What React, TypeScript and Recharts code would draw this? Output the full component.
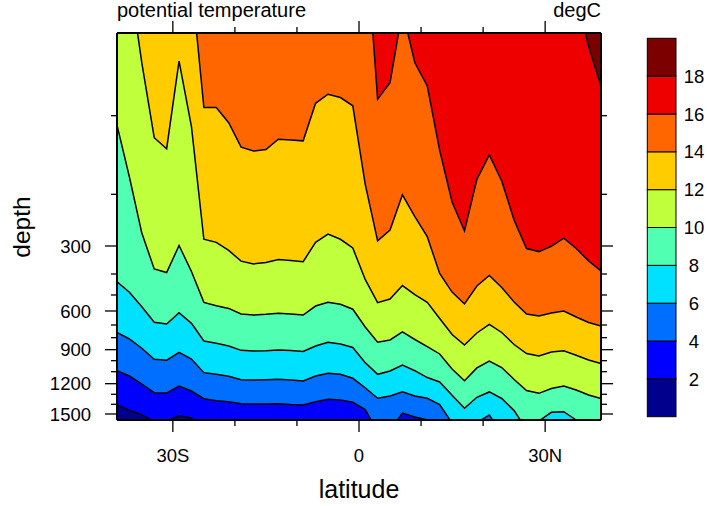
import { Area, CartesianGrid, ComposedChart, XAxis, YAxis } from "recharts";

const FONT = '"Liberation Sans", Arial, Helvetica, sans-serif';

// grid columns, degrees latitude (negative = south)
const LATS = [
  -39, -37, -35, -33, -31, -29, -27, -25, -23, -21, -19, -17, -15, -13, -11, -9,
  -7, -5, -3, -1, 1, 3, 5, 7, 9, 11, 13, 15, 17, 19, 21, 23, 25, 27, 29, 31, 33,
  35, 37, 39,
];

// depth (m) of each isotherm in every column.
// negative = isotherm lies above the surface there, >1562 = below the section bottom
const ISO_2 = [
  1407, 1464, 1510, 1578, 1572, 1518, 1541, 1644, 1800, 1800, 1800, 1800, 1800,
  1800, 1800, 1800, 1800, 1800, 1800, 1800, 1800, 1800, 1800, 1800, 1800, 1800,
  1800, 1800, 1800, 1800, 1800, 1800, 1800, 1800, 1800, 1800, 1800, 1800, 1800,
  1800,
];
const ISO_4 = [
  1091, 1136, 1203, 1285, 1288, 1222, 1269, 1344, 1364, 1374, 1394, 1397, 1397,
  1394, 1402, 1407, 1374, 1350, 1357, 1380, 1454, 1684, 1665, 1490, 1531, 1562,
  1665, 1800, 1800, 1800, 1800, 1800, 1800, 1800, 1800, 1800, 1800, 1800, 1800,
  1800,
];
const ISO_6 = [
  758, 811, 888, 987, 996, 924, 985, 1108, 1122, 1138, 1167, 1169, 1167, 1163,
  1169, 1178, 1136, 1113, 1122, 1155, 1238, 1340, 1317, 1276, 1317, 1340, 1402,
  1593, 1768, 1589, 1510, 1706, 1800, 1800, 1800, 1800, 1800, 1800, 1800, 1800,
];
const ISO_8 = [
  437, 487, 573, 681, 693, 612, 688, 828, 847, 869, 906, 912, 909, 903, 907, 916,
  869, 838, 853, 882, 1018, 1122, 1094, 1039, 1091, 1149, 1186, 1310, 1441, 1330,
  1278, 1342, 1465, 1661, 1572, 1483, 1476, 1562, 1665, 1717,
];
const ISO_10 = [
  112, 178, 275, 382, 395, 299, 391, 546, 567, 584, 621, 629, 624, 616, 621, 629,
  569, 546, 558, 589, 716, 838, 819, 755, 815, 875, 939, 1076, 1175, 1066, 1003,
  1062, 1165, 1264, 1291, 1245, 1222, 1259, 1307, 1342,
];
const ISO_12 = [
  -150, -68, 36, 128, 142, 34, 114, 287, 293, 316, 354, 364, 359, 348, 352, 356,
  293, 277, 287, 307, 426, 548, 525, 455, 498, 546, 654, 775, 861, 763, 696, 759,
  857, 935, 957, 921, 909, 950, 994, 1026,
];
const ISO_14 = [
  -150, -150, -150, -150, -150, -150, -64, 90, 90, 109, 140, 145, 143, 130, 131,
  132, 85, 74, 78, 88, 187, 290, 269, 201, 243, 282, 398, 486, 556, 457, 407, 464,
  544, 621, 636, 614, 600, 643, 682, 708,
];
const ISO_16 = [
  -150, -150, -150, -150, -150, -150, -150, -150, -150, -150, -150, -150, -150,
  -150, -150, -150, -150, -150, -150, -150, -129, 80, 60, -27, 36, 64, 144, 215,
  271, 181, 150, 183, 250, 309, 320, 301, 285, 309, 353, 389,
];
const ISO_18 = [
  -150, -150, -150, -150, -150, -150, -150, -150, -150, -150, -150, -150, -150,
  -150, -150, -150, -150, -150, -150, -150, -150, -150, -150, -150, -150, -150,
  -150, -150, -150, -150, -150, -150, -150, -150, -150, -150, -150, -46, 16, 64,
];

const LEVELS = [2, 4, 6, 8, 10, 12, 14, 16, 18];
const ISOTHERMS = [ISO_2, ISO_4, ISO_6, ISO_8, ISO_10, ISO_12, ISO_14, ISO_16, ISO_18];
// <2, 2-4, ..., >18
const BAND_COLORS = [
  "#00008c", "#0000ff", "#006eff", "#00e0ff", "#50ffb2",
  "#bfff3c", "#ffcc00", "#ff6600", "#ee0000", "#7d0000",
];

const LAT_TICKS = [-30, -20, -10, 0, 10, 20, 30];
const DEPTH_TICKS = [100, 200, 300, 400, 500, 600, 700, 800, 900, 1000, 1100, 1200, 1300, 1400, 1500];

// depth axis is stretched like model levels: axis position of every 100 m
const KNOT_DEPTH = [0, 100, 200, 300, 400, 500, 600, 700, 800, 900, 1000, 1100, 1200, 1300, 1400, 1500];
const KNOT_POS = [0, 82.7, 161.3, 213, 241, 262, 278, 292, 304.7, 316.7, 327.7, 338.7, 350.7, 361.3, 371.3, 381];
const BOTTOM_DEPTH = 1562;

const toAxis = (d: number) => {
  const n = KNOT_DEPTH.length;
  let k = 0;
  while (k < n - 2 && d > KNOT_DEPTH[k + 1]) k++;
  const t = (d - KNOT_DEPTH[k]) / (KNOT_DEPTH[k + 1] - KNOT_DEPTH[k]);
  return KNOT_POS[k] + t * (KNOT_POS[k + 1] - KNOT_POS[k]);
};
const Y_MAX = toAxis(BOTTOM_DEPTH);

const rows = LATS.map((lat, i) => {
  const row: Record<string, number> = { lat };
  LEVELS.forEach((lv, k) => {
    row[`t${lv}`] = toAxis(ISOTHERMS[k][i]);
  });
  return row;
});

const latLabel = (v: number) => (v === 0 ? "0" : v < 0 ? `${-v}S` : `${v}N`);

const BottomTick = (props: any) => {
  const { x, y, payload } = props;
  const major = payload.value % 30 === 0;
  return (
    <g>
      <line x1={x} x2={x} y1={y} y2={y + (major ? 12 : 6)} stroke="#000" strokeWidth={1.3} />
      {major && (
        <text x={x} y={y + 41.5} textAnchor="middle" fontSize={18.5} fontFamily={FONT} fill="#000">
          {latLabel(payload.value)}
        </text>
      )}
    </g>
  );
};

const TopTick = (props: any) => {
  const { x, y, payload } = props;
  const major = payload.value % 30 === 0;
  return <line x1={x} x2={x} y1={y} y2={y - (major ? 12 : 6)} stroke="#000" strokeWidth={1.3} />;
};

const LeftTick = (props: any) => {
  const { x, y, index } = props;
  const depth = DEPTH_TICKS[index];
  const major = depth % 300 === 0;
  return (
    <g>
      <line x1={x} x2={x - (major ? 12 : 6)} y1={y} y2={y} stroke="#000" strokeWidth={1.3} />
      {major && (
        <text x={x - 26} y={y} dy="0.36em" textAnchor="end" fontSize={18.5} fontFamily={FONT} fill="#000">
          {depth}
        </text>
      )}
    </g>
  );
};

const RightTick = (props: any) => {
  const { x, y, index } = props;
  const major = DEPTH_TICKS[index] % 300 === 0;
  return <line x1={x} x2={x + (major ? 12 : 6)} y1={y} y2={y} stroke="#000" strokeWidth={1.3} />;
};

const frame = { stroke: "#000", strokeWidth: 2 };

const ColorBar = () => {
  const x = 647.3;
  const w = 28.7;
  const top = 38.3;
  const h = 37.84;
  const n = BAND_COLORS.length;
  return (
    <g>
      {BAND_COLORS.map((c, k) => (
        <rect key={c} x={x} y={top + (n - 1 - k) * h} width={w} height={h} fill={c} stroke="#000" strokeWidth={1} />
      ))}
      {LEVELS.map((lv, k) => (
        <text key={lv} x={694} y={top + (n - 1 - k) * h} dy="0.36em" textAnchor="middle" fontSize={18.5} fontFamily={FONT} fill="#000">
          {lv}
        </text>
      ))}
    </g>
  );
};

export default function App() {
  return (
    <div style={{ position: "absolute", left: 0, top: 0, width: 707, height: 506, background: "#fff" }}>
      <ComposedChart width={707} height={506} data={rows} margin={{ top: 0, right: 0, bottom: 0, left: 0 }}>
        <CartesianGrid xAxisId="b" yAxisId="l" horizontal={false} vertical={false} fill={BAND_COLORS[0]} fillOpacity={1} />
        <XAxis
          xAxisId="b"
          dataKey="lat"
          type="number"
          domain={[-39, 39]}
          allowDataOverflow
          ticks={LAT_TICKS}
          interval={0}
          height={86}
          tickLine={false}
          tickSize={0}
          tickMargin={0}
          axisLine={frame}
          tick={<BottomTick />}
        />
        <XAxis
          xAxisId="t"
          orientation="top"
          dataKey="lat"
          type="number"
          domain={[-39, 39]}
          allowDataOverflow
          ticks={LAT_TICKS}
          interval={0}
          height={33}
          tickLine={false}
          tickSize={0}
          tickMargin={0}
          axisLine={frame}
          tick={<TopTick />}
        />
        <YAxis
          yAxisId="l"
          type="number"
          domain={[0, Y_MAX]}
          reversed
          allowDataOverflow
          ticks={DEPTH_TICKS.map(toAxis)}
          interval={0}
          width={117}
          tickLine={false}
          tickSize={0}
          tickMargin={0}
          axisLine={frame}
          tick={<LeftTick />}
        />
        <YAxis
          yAxisId="r"
          orientation="right"
          type="number"
          domain={[0, Y_MAX]}
          reversed
          allowDataOverflow
          ticks={DEPTH_TICKS.map(toAxis)}
          interval={0}
          width={106}
          tickLine={false}
          tickSize={0}
          tickMargin={0}
          axisLine={frame}
          tick={<RightTick />}
        />
        {LEVELS.map((lv, k) => (
          <Area
            key={lv}
            xAxisId="b"
            yAxisId="l"
            type="linear"
            dataKey={`t${lv}`}
            baseValue={0}
            stroke="#000"
            strokeWidth={1.5}
            fill={BAND_COLORS[k + 1]}
            fillOpacity={1}
            dot={false}
            activeDot={false}
            isAnimationActive={false}
          />
        ))}
      </ComposedChart>
      <svg width={707} height={506} style={{ position: "absolute", left: 0, top: 0, pointerEvents: "none" }}>
        <text x={117} y={17} fontSize={20} fontFamily={FONT} fill="#000">
          potential temperature
        </text>
        <text x={601} y={17} fontSize={20} fontFamily={FONT} fill="#000" textAnchor="end">
          degC
        </text>
        <text x={359} y={498} fontSize={25} fontFamily={FONT} fill="#000" textAnchor="middle">
          latitude
        </text>
        <text transform="translate(30,227) rotate(-90)" fontSize={24.5} fontFamily={FONT} fill="#000" textAnchor="middle">
          depth
        </text>
        <ColorBar />
      </svg>
    </div>
  );
}
